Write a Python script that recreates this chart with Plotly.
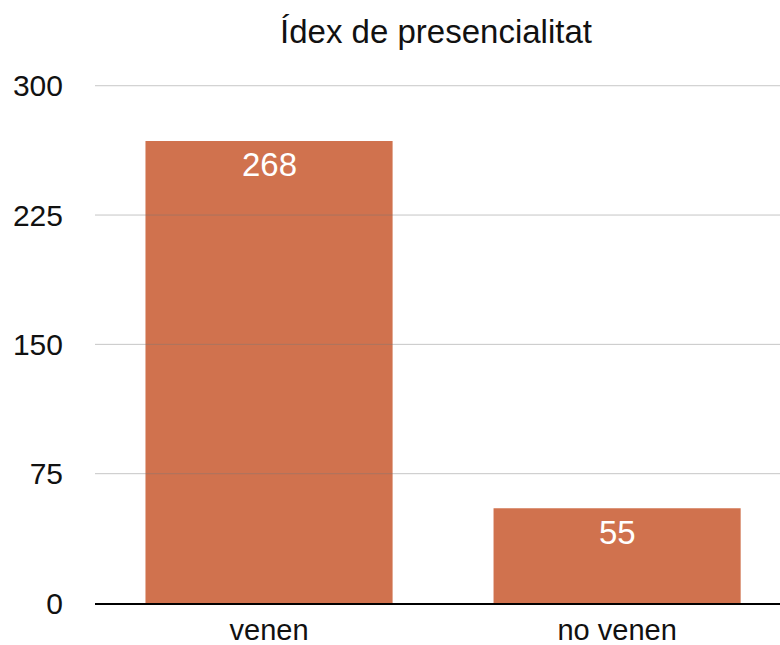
import plotly.graph_objects as go

categories = ["venen", "no venen"]
values = [268, 55]
y_ticks = [0, 75, 150, 225, 300]
title_text = "Ídex de presencialitat"

bar_color = "#D0724E"
grid_color = "rgba(120,120,120,0.42)"
font_family = "Liberation Sans, Arial, Helvetica, sans-serif"
text_color = "#111111"

fig = go.Figure()
fig.add_trace(go.Bar(
    x=categories,
    y=values,
    marker=dict(color=bar_color, line=dict(width=0)),
    hoverinfo="x+y",
))

for c, v in zip(categories, values):
    fig.add_annotation(
        x=c, y=v, text=str(v), showarrow=False,
        yanchor="middle", xanchor="center", yshift=-24,
        font=dict(family=font_family, size=33, color="white"),
    )

# gridlines drawn above the bars, as in the reference
for t in y_ticks[1:]:
    fig.add_shape(
        type="line", xref="paper", x0=0, x1=1, yref="y", y0=t, y1=t,
        line=dict(color=grid_color, width=1), layer="above",
    )

fig.update_layout(
    width=780, height=645,
    margin=dict(l=95, r=0, t=84, b=42, autoexpand=False),
    paper_bgcolor="white", plot_bgcolor="white",
    bargap=0.29,
    showlegend=False,
    title=dict(text=title_text, x=0.559, xanchor="center",
               y=1 - 31 / 645, yanchor="middle",
               font=dict(family=font_family, size=33, color=text_color)),
    font=dict(family=font_family, color=text_color),
)
fig.update_yaxes(
    range=[0, 301], tickvals=y_ticks, ticktext=[str(t) for t in y_ticks],
    showgrid=False, zeroline=False, showline=False, automargin=False,
    tickfont=dict(family=font_family, size=30, color=text_color),
    ticklabelstandoff=31,
)
fig.update_xaxes(
    range=[-0.5, 1.468],
    showline=True, linecolor="black", linewidth=2,
    showgrid=False, automargin=False,
    tickfont=dict(family=font_family, size=29, color=text_color),
    ticklabelstandoff=0,
)

fig.write_html("out.html", config={"displayModeBar": False},
               post_script="document.body.style.margin='0';document.body.style.overflow='hidden';")
